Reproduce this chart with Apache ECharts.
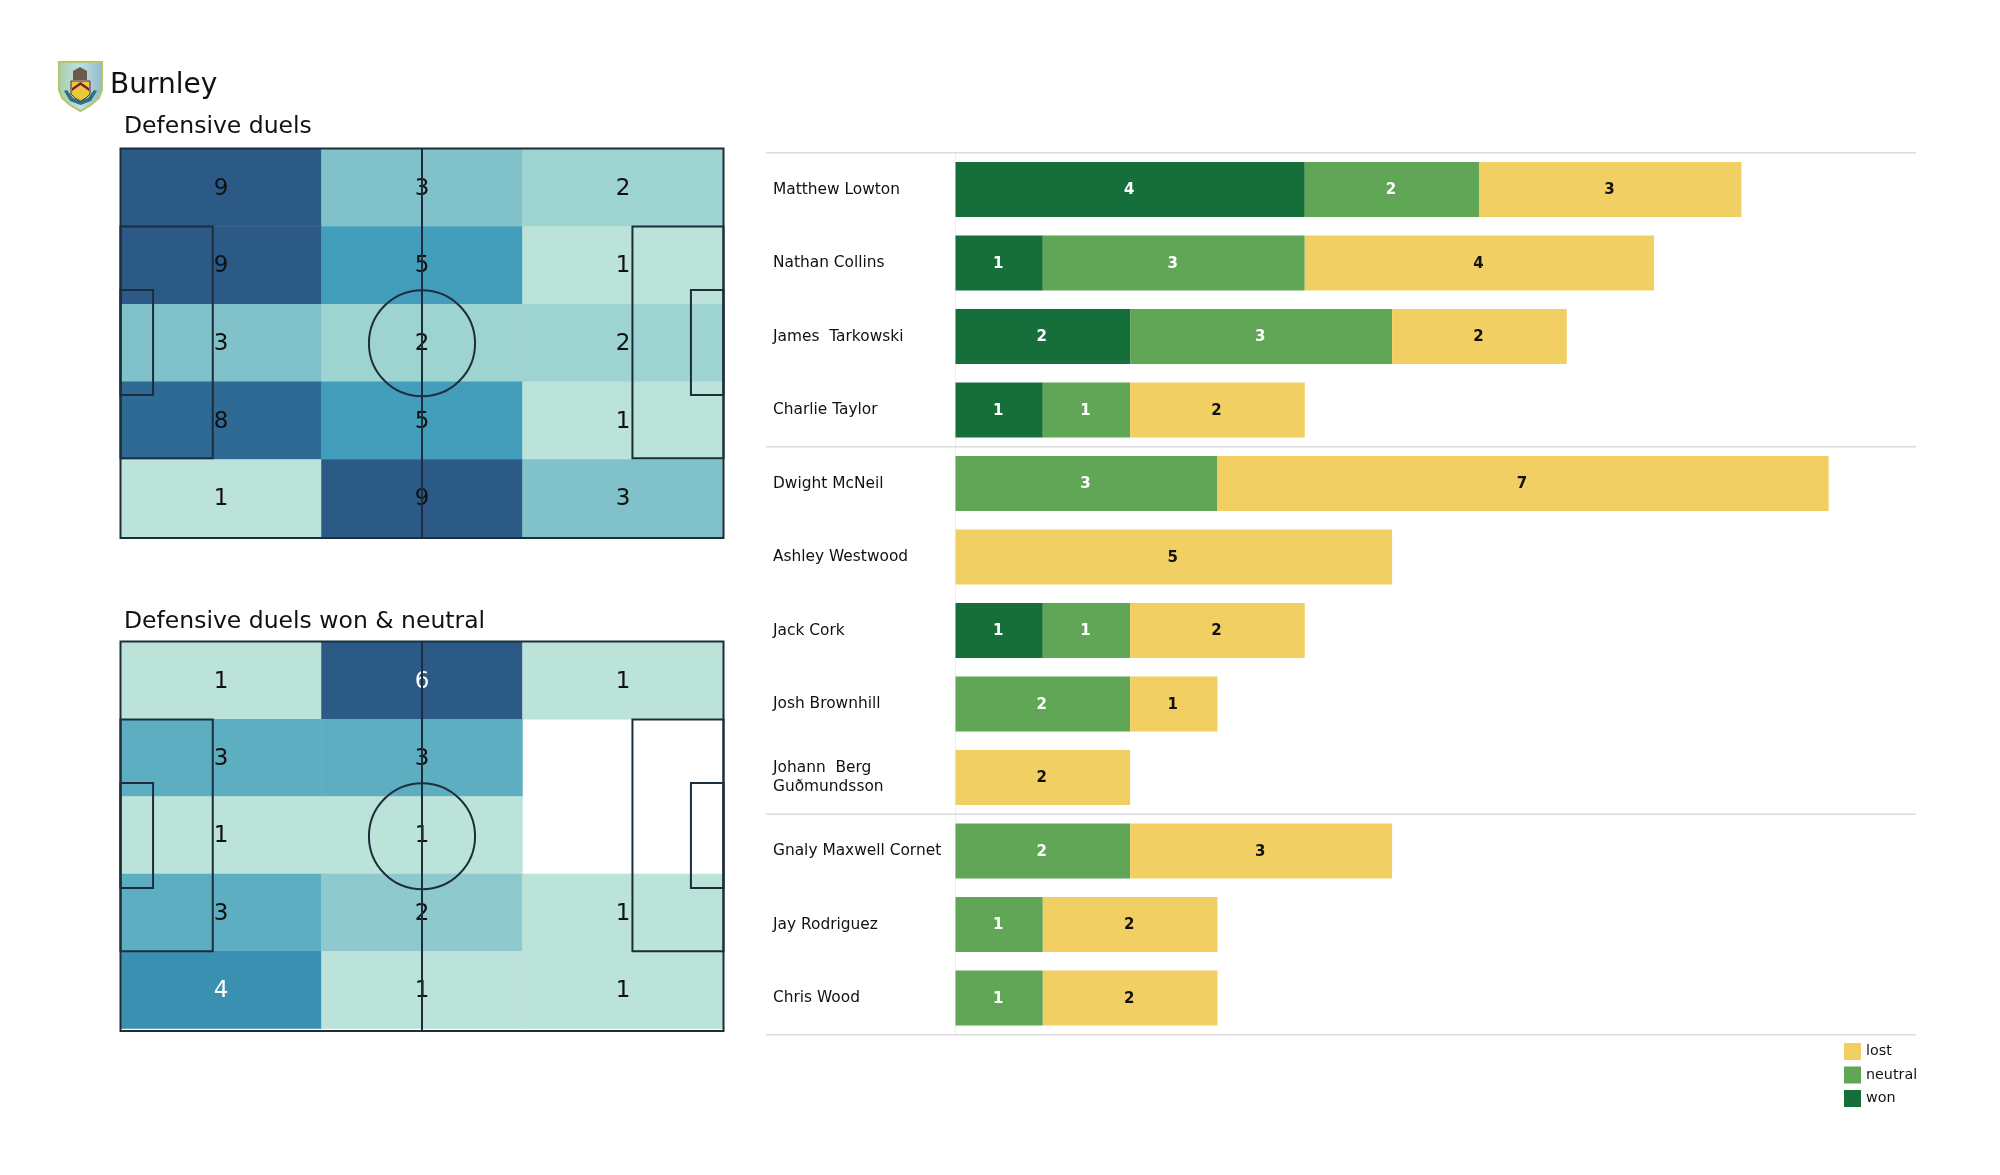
<!DOCTYPE html>
<html>
<head>
<meta charset="utf-8">
<style>html,body{margin:0;padding:0;background:#fff}#c{width:2000px;height:1175px}</style>
<script src="https://cdn.jsdelivr.net/npm/echarts@6/dist/echarts.min.js"></script>
</head>
<body>
<div id="c"></div>
<script>
const teamName = 'Burnley';
const heatTitleAll = 'Defensive duels';
const heatTitleWon = 'Defensive duels won & neutral';

const zoneColumns = ['left', 'middle', 'right'];
const zoneRows = ['r1', 'r2', 'r3', 'r4', 'r5'];
const duelsAll = [
  [9, 3, 2],
  [9, 5, 1],
  [3, 2, 2],
  [8, 5, 1],
  [1, 9, 3]
];
const duelsWonNeutral = [
  [1, 6, 1],
  [3, 3, 0],
  [1, 1, 0],
  [3, 2, 1],
  [4, 1, 1]
];
const rampAll = ['#bbe3d9', '#9dd3d0', '#80c1ca', '#61b0c2', '#429eba', '#3a8cb0', '#3379a0', '#2f6a94', '#2b5a87'];
const rampWon = ['#bbe3d9', '#8dc9cd', '#5eaec2', '#3a90b1', '#3275a0', '#2b5a87'];

const players = [
  'Matthew Lowton', 'Nathan Collins', 'James  Tarkowski', 'Charlie Taylor',
  'Dwight McNeil', 'Ashley Westwood', 'Jack Cork', 'Josh Brownhill',
  'Johann  Berg\nGuðmundsson', 'Gnaly Maxwell Cornet', 'Jay Rodriguez', 'Chris Wood'
];
const won     = [4, 1, 2, 1, 0, 0, 1, 0, 0, 0, 0, 0];
const neutral = [2, 3, 3, 1, 3, 0, 1, 2, 0, 2, 1, 1];
const lost    = [3, 4, 2, 2, 7, 5, 2, 1, 2, 3, 2, 2];
const groupBreaks = [0, 4, 9, 12];

// pitch markings in percent of pitch length and width
const pitchRects = [
  [0, 0, 100, 100],
  [50, 0, 50, 100],
  [0, 20, 15.3, 79.5],
  [0, 36.3, 5.4, 63.3],
  [84.9, 20, 100, 79.5],
  [94.6, 36.3, 100, 63.3]
];
const centreCircle = [[50, 50, 8.8]];

const FONT = '"DejaVu Sans", sans-serif';
const INK = '#111111';
const LINE = '#1d2d3a';

function heatData(rows, whiteFrom) {
  const out = [];
  rows.forEach((row, r) => row.forEach((v, c) => {
    if (v > 0) {
      out.push({ value: [c, r, v], label: { color: v >= whiteFrom && whiteFrom > 0 ? '#ffffff' : INK } });
    }
  }));
  return out;
}
function heatSeries(gridIdx, rows, whiteFrom) {
  return {
    type: 'heatmap', xAxisIndex: gridIdx, yAxisIndex: gridIdx, data: heatData(rows, whiteFrom),
    label: { show: true, fontFamily: FONT, fontSize: 23, offset: [0, 1], formatter: p => String(p.value[2]) },
    itemStyle: { borderWidth: 0 }, emphasis: { disabled: true }, z: 2
  };
}
function pitchSeries(axisIdx) {
  return [{
    type: 'custom', xAxisIndex: axisIdx, yAxisIndex: axisIdx, silent: true, z: 5, clip: false,
    encode: { x: [0, 2], y: [1, 3] }, data: pitchRects,
    renderItem(params, api) {
      const a = api.coord([api.value(0), api.value(1)]);
      const b = api.coord([api.value(2), api.value(3)]);
      return {
        type: 'rect',
        shape: { x: a[0], y: a[1], width: b[0] - a[0], height: b[1] - a[1] },
        style: { fill: 'none', stroke: LINE, lineWidth: 2 }
      };
    }
  }, {
    type: 'custom', xAxisIndex: axisIdx, yAxisIndex: axisIdx, silent: true, z: 5, clip: false,
    encode: { x: 0, y: 1 }, data: centreCircle,
    renderItem(params, api) {
      const c = api.coord([api.value(0), api.value(1)]);
      return {
        type: 'circle',
        shape: { cx: c[0], cy: c[1], r: api.size([api.value(2), 0])[0] },
        style: { fill: 'none', stroke: LINE, lineWidth: 2 }
      };
    }
  }];
}
function barSeries(name, values, color, labelColor) {
  return {
    name, type: 'bar', stack: 'duels', xAxisIndex: 4, yAxisIndex: 4, data: values, barWidth: 55,
    itemStyle: { color }, emphasis: { disabled: true }, z: 3,
    label: {
      show: true, position: 'inside', offset: [-1, 1], color: labelColor, fontFamily: FONT, fontWeight: 'bold', fontSize: 15,
      formatter: p => (p.value > 0 ? String(p.value) : '')
    }
  };
}
const hidden = { show: false };
function catAxis(grid, data, inverse) {
  return { type: 'category', gridIndex: grid, data, inverse, show: false };
}
function pctAxis(grid, inverse) {
  return { type: 'value', gridIndex: grid, min: 0, max: 100, inverse, show: false };
}
function titleAt(text, left, top, size) {
  return { text, left, top, padding: 0, textStyle: { fontFamily: FONT, fontWeight: 'normal', fontSize: size, color: INK } };
}

const option = {
  animation: false,
  backgroundColor: '#ffffff',
  title: [
    titleAt(teamName, 110, 72, 28),
    titleAt(heatTitleAll, 124, 115, 23.5),
    titleAt(heatTitleWon, 124, 610, 23.5)
  ],
  grid: [
    { left: 120.5, top: 149, width: 603, height: 388 },
    { left: 120.5, top: 642, width: 603, height: 386.5 },
    { left: 120.5, top: 148.5, width: 603, height: 389.5 },
    { left: 120.5, top: 641.5, width: 603, height: 389.5 },
    { left: 766, top: 152.75, width: 1150, height: 882 }
  ],
  xAxis: [
    catAxis(0, zoneColumns, false), catAxis(1, zoneColumns, false),
    pctAxis(2, false), pctAxis(3, false),
    { type: 'value', gridIndex: 4, min: -2.17, max: 11, show: false }
  ],
  yAxis: [
    catAxis(0, zoneRows, true), catAxis(1, zoneRows, true),
    pctAxis(2, true), pctAxis(3, true),
    {
      type: 'category', gridIndex: 4, data: players, inverse: true,
      axisLine: { show: true, onZero: true, lineStyle: { color: '#eeeeee', width: 1 } },
      axisTick: hidden, splitLine: hidden,
      axisLabel: { align: 'left', margin: -7, color: INK, fontFamily: FONT, fontSize: 15.4, lineHeight: 19, padding: [3, 0, 0, 0], interval: 0 }
    }
  ],
  visualMap: [
    { show: false, type: 'continuous', seriesIndex: 0, dimension: 2, min: 1, max: 9, inRange: { color: rampAll } },
    { show: false, type: 'continuous', seriesIndex: 1, dimension: 2, min: 1, max: 6, inRange: { color: rampWon } }
  ],
  legend: {
    orient: 'vertical', left: 1844, top: 1043, itemWidth: 17, itemHeight: 17, itemGap: 6.5,
    icon: 'rect', selectedMode: false, padding: 0,
    data: ['lost', 'neutral', 'won'],
    textStyle: { fontFamily: FONT, fontSize: 14.3, color: INK, padding: [2, 0, 0, 0] }
  },
  series: [
    heatSeries(0, duelsAll, 0),
    heatSeries(1, duelsWonNeutral, 4),
    ...pitchSeries(2),
    ...pitchSeries(3),
    barSeries('won', won, '#166e3a', '#ffffff'),
    barSeries('neutral', neutral, '#61a656', '#ffffff'),
    barSeries('lost', lost, '#f2cf63', '#111111'),
    {
      type: 'custom', xAxisIndex: 4, yAxisIndex: 4, silent: true, z: 1, clip: false,
      encode: { x: 0, y: 1 }, data: groupBreaks.map(b => [b, 0]),
      renderItem(params, api) {
        const band = api.size([0, 1])[1];
        const y = api.coord([0, 0])[1] - band / 2 + band * api.value(0);
        const cs = params.coordSys;
        return {
          type: 'line',
          shape: { x1: cs.x, y1: y, x2: cs.x + cs.width, y2: y },
          style: { stroke: '#dcdcdc', lineWidth: 1.5 }
        };
      }
    }
  ],
  graphic: [{
    type: 'group', left: 58, top: 61, children: [
      { type: 'polygon', shape: { points: [[0,0],[43,0],[43,28],[40,36],[32,43],[21.5,49],[11,43],[3,36],[0,28]] },
        style: { fill: { type: 'linear', x: 0, y: 0, x2: 1, y2: 0, colorStops: [{ offset: 0, color: '#a9cfa0' }, { offset: 0.5, color: '#bfe0ea' }, { offset: 1, color: '#8fb8c4' }] }, stroke: '#b7c56a', lineWidth: 2 } },
      { type: 'polygon', shape: { points: [[14,9],[21,5],[28,9],[28,18],[14,18]] }, style: { fill: '#6b5a4a' } },
      { type: 'polygon', shape: { points: [[12,19],[31,19],[31,32],[27,36],[21.5,39],[16,36],[12,32]] },
        style: { fill: '#e9c83a', stroke: '#5a2a2a', lineWidth: 1 } },
      { type: 'polygon', shape: { points: [[13,26],[21.5,20],[30,26],[30,29],[21.5,23],[13,29]] }, style: { fill: '#7a1f33' } },
      { type: 'polygon', shape: { points: [[5,29],[8,28],[14,36],[21.5,39],[29,36],[35,28],[38,29],[32,39],[21.5,43],[11,39]] }, style: { fill: '#2f6f7f' } }
    ]
  }]
};
echarts.init(document.getElementById('c'), null, { renderer: 'canvas' }).setOption(option);
</script>
</body>
</html>
